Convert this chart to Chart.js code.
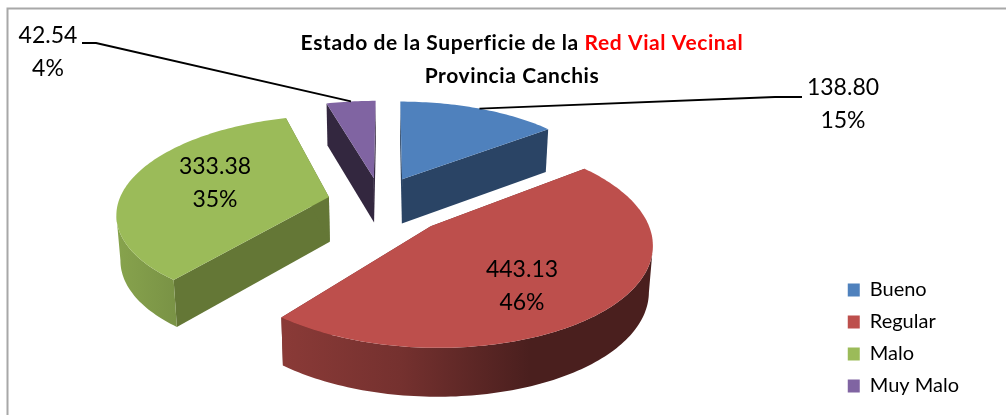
<!DOCTYPE html>
<html><head><meta charset="utf-8">
<style>html,body{margin:0;padding:0;background:#fff;overflow:hidden}canvas{display:block}</style>
<script src="https://cdn.jsdelivr.net/npm/chart.js@4/dist/chart.umd.min.js"></script>
</head><body><canvas id="c" width="1006" height="415"></canvas>
<script>
const categories = ["Bueno", "Regular", "Malo", "Muy Malo"];
const values = [138.80, 443.13, 333.38, 42.54];
const percentLabels = ["15%", "46%", "35%", "4%"];
const valueLabels = ["138.80", "443.13", "333.38", "42.54"];
const topColors = ["#4f81bd", "#bd4f4c", "#9bbb59", "#8064a2"];
const wallColors = ["#2a4465", "#6e2c2a", "#647736", "#33273f"];
const titleLine1a = "Estado de la Superficie de la ";
const titleLine1b = "Red Vial Vecinal";
const titleLine2 = "Provincia Canchis";

// 3-D view styling
const VIEW = {cx:388, cy:207, R:212, kappa:0.457, persp:0.15, depth:45, depthPersp:0.4, shrink:0.015, rimFrom:0.17};
const explode = [[14.7,-63.6],[41.5,41],[-60,-22],[-14.8,-66]];
const paintOrder = [3,0,2,1];
const rimShade = [[117,.87],[178,.78],[283,.73],[400,.62],[530,.39],[652,.39]];
const labelPos = [[843,88],[522,270],[215,167],[48,36]];
const labelGap = 33;
const leaders = {0:[[775,97],[802,97]], 3:[[96,43],[82,43]]};

function project(u,v,z){
  const s = 1/(1-VIEW.persp*v/VIEW.R);
  const sd = 1+(s-1)*VIEW.depthPersp;
  return [VIEW.cx+u*s*(1-VIEW.shrink*z), VIEW.cy+VIEW.kappa*v*s+VIEW.depth*z*sd];
}
function rimPoint(i,a,z){
  const e = explode[i];
  return project(e[0]+VIEW.R*Math.cos(a), e[1]+VIEW.R*Math.sin(a), z);
}
function poly(ctx,pts){
  ctx.beginPath();
  pts.forEach((p,k)=>k?ctx.lineTo(p[0],p[1]):ctx.moveTo(p[0],p[1]));
  ctx.closePath();
}
function mix(hex,f){
  const n=parseInt(hex.slice(1),16);
  return `rgb(${Math.round((n>>16&255)*f)},${Math.round((n>>8&255)*f)},${Math.round((n&255)*f)})`;
}
const pie3d = {
  id:'pie3d',
  beforeDraw(chart){
    const c=chart.ctx;
    c.save();
    c.strokeStyle='#a8a8a8'; c.lineWidth=2;
    c.beginPath(); c.moveTo(1006,8.5); c.lineTo(7.5,8.5); c.lineTo(7.5,415); c.stroke();
    c.restore();
  },
  beforeDatasetDraw(){ return false; },
  afterDatasetsDraw(chart){
    const c=chart.ctx, arcs=chart.getDatasetMeta(0).data;
    c.save();
    paintOrder.forEach(i=>{
      const arc=arcs[i], a0=arc.startAngle, a1=arc.endAngle, e=explode[i];
      const N=Math.max(8,Math.ceil((a1-a0)*48));
      const apexT=project(e[0],e[1],0), apexB=project(e[0],e[1],1);
      // radial walls
      c.fillStyle=wallColors[i];
      [a0,a1].forEach(a=>{
        poly(c,[apexT,rimPoint(i,a,0),rimPoint(i,a,1),apexB]); c.fill();
      });
      // rim wall: only the part that faces the viewer
      const g=c.createLinearGradient(rimShade[0][0],0,rimShade[rimShade.length-1][0],0);
      const span=rimShade[rimShade.length-1][0]-rimShade[0][0];
      rimShade.forEach(s=>g.addColorStop((s[0]-rimShade[0][0])/span,mix(topColors[i],s[1])));
      const up=[],fu=[],fd=[];
      for(let k=0;k<=N;k++){
        const a=a0+(a1-a0)*k/N; up.push(rimPoint(i,a,0));
        if(Math.sin(a)>=VIEW.rimFrom){fu.push(rimPoint(i,a,0)); fd.unshift(rimPoint(i,a,1));}
      }
      if(fu.length>1){c.fillStyle=g; poly(c,fu.concat(fd)); c.fill();}
      // top face
      c.fillStyle=topColors[i]; poly(c,[apexT].concat(up)); c.fill();
    });
    // leader lines
    c.strokeStyle='#000'; c.lineWidth=1.8; c.lineJoin='round';
    Object.keys(leaders).forEach(k=>{
      const i=+k, arc=arcs[i], p=rimPoint(i,(arc.startAngle+arc.endAngle)/2,0);
      c.beginPath(); c.moveTo(p[0],p[1]);
      leaders[k].forEach(q=>c.lineTo(q[0],q[1])); c.stroke();
    });
    // data labels
    c.fillStyle='#000'; c.textAlign='center'; c.textBaseline='middle'; c.font='23px Lato';
    labelPos.forEach((p,i)=>{
      c.fillText(valueLabels[i],p[0],p[1]);
      c.fillText(percentLabels[i],p[0],p[1]+labelGap);
    });
    // title
    c.font='bold 21px Lato'; c.textAlign='left'; c.letterSpacing='0.6px';
    c.fontVariantLigatures='none';
    const w1=c.measureText(titleLine1a).width, w2=c.measureText(titleLine1b).width;
    const x0=522-(w1+w2)/2;
    c.fillStyle='#000'; c.fillText(titleLine1a,x0,43);
    c.fillStyle='#ff0000'; c.fillText(titleLine1b,x0+w1,43);
    c.fillStyle='#000'; c.textAlign='center'; c.fillText(titleLine2,512,76);
    c.letterSpacing='0px';
    c.restore();
  }
};
new Chart(document.getElementById('c'),{
  type:'pie',
  data:{labels:categories,datasets:[{data:values,backgroundColor:topColors,borderWidth:0}]},
  options:{
    responsive:false,animation:false,
    layout:{padding:{right:37,bottom:7}},
    plugins:{
      tooltip:{enabled:false},
      title:{display:false},
      legend:{position:'right',align:'end',
        labels:{boxWidth:12,boxHeight:13,padding:12,color:'#000',font:{family:'Lato',size:20}}}
    }
  },
  plugins:[pie3d]
});
</script></body></html>
